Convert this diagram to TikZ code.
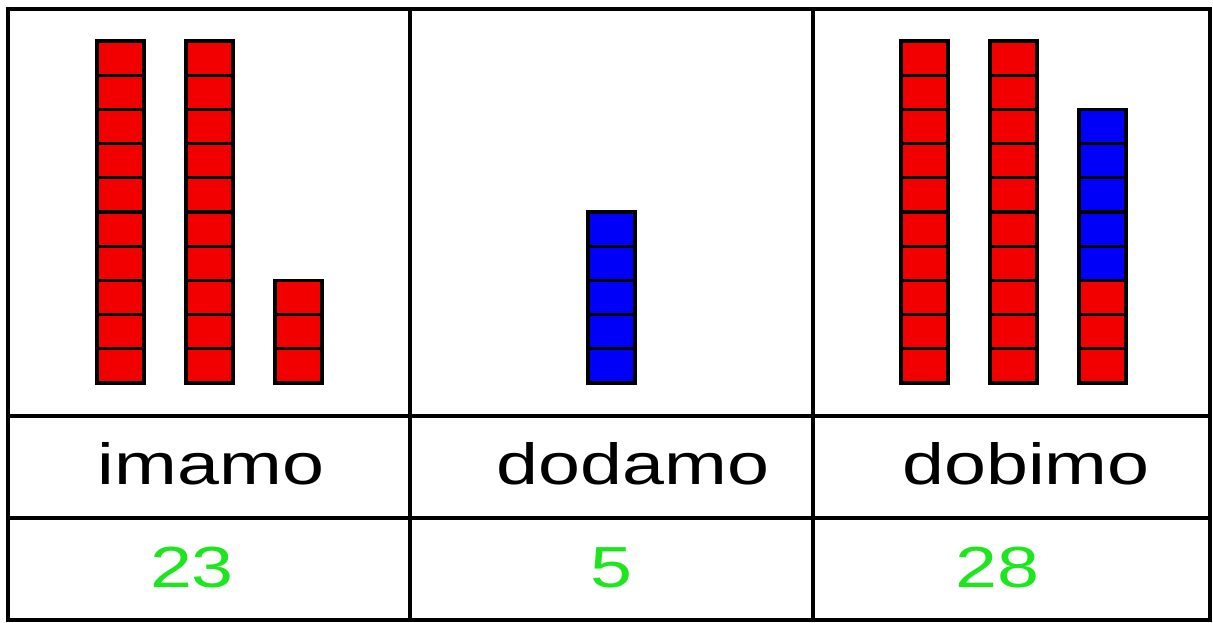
\documentclass[tikz,border=0pt]{standalone}
\usepackage{fontspec}
\usepackage{xcolor}
\usetikzlibrary{positioning}
\newfontfamily\wordfont[FakeStretch=1.3]{Liberation Sans}
\definecolor{cRed}{HTML}{F20000}
\definecolor{cBlue}{HTML}{0000FA}
\definecolor{cGreen}{HTML}{1EE61E}
\definecolor{cInk}{HTML}{000000}
\tikzset{
  frame/.style={draw=cInk, line width=0.07cm},
  cell/.style={draw=cInk, line width=0.065cm, fill=#1},
  word/.style={anchor=base, inner sep=0pt, text=cInk,
    font=\wordfont\fontsize{33}{36}\selectfont},
  amount/.style={word, text=cGreen},
}

\begin{document}
\begin{tikzpicture}[x=0.02cm, y=-0.02cm]
\useasboundingbox (0,0) rectangle (1213,622);
\fill[white] (0,0) rectangle (1213,622);

% table
\draw[frame] (8,9) rectangle (1210,620);
\foreach \x in {410,813}
  \draw[frame] (\x,9) -- (\x,620);
\foreach \y in {416,518}
  \draw[frame] (8,\y) -- (1210,\y);

% rods of unit cubes: x / first cube / last cube / colour
\foreach \x/\a/\b/\c in {97/1/10/cRed, 186/1/10/cRed, 275/1/3/cRed,
                         588/1/5/cBlue,
                         901/1/10/cRed, 990/1/10/cRed, 1079/1/3/cRed, 1079/4/8/cBlue}
  \foreach \k in {\a,...,\b}
    \draw[cell=\c] (\x,{383-34.2*(\k-1)}) rectangle ++(47,-34.2);

% words
\node[word] (have) at (211,484) {imamo};
\node[word] (add) at (633,484) {dodamo};
\node[word] (get) at (1026,484) {dobimo};

% numbers
\node[amount] (n23) at (192,587) {23};
\node[amount] (n5) at (611,587) {5};
\node[amount] (n28) at (997,587) {28};
\end{tikzpicture}
\end{document}
